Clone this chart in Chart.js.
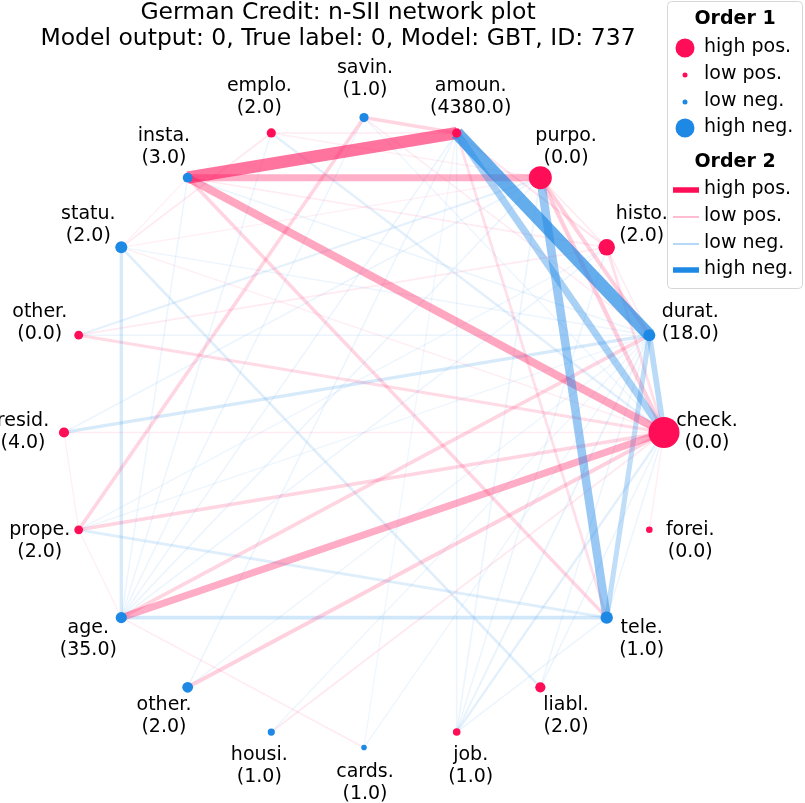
<!DOCTYPE html>
<html>
<head>
<meta charset="utf-8">
<script src="https://cdn.jsdelivr.net/npm/chart.js@4.4.1/dist/chart.umd.min.js"></script>
<style>
  html, body { margin: 0; padding: 0; background: #ffffff; }
  #wrap { width: 805px; height: 803px; }
</style>
</head>
<body>
<div id="wrap"><canvas id="c" width="805" height="803"></canvas></div>
<script>
// ---------------- data ----------------
const featureKeys = ['check','durat','histo','purpo','amoun','savin','emplo','insta','statu','other0',
                     'resid','prope','age','other2','housi','cards','job','liabl','tele','forei'];
const featureLabels = ['check.','durat.','histo.','purpo.','amoun.','savin.','emplo.','insta.','statu.','other.',
                       'resid.','prope.','age.','other.','housi.','cards.','job.','liabl.','tele.','forei.'];
const featureValues = ['0.0','18.0','2.0','0.0','4380.0','1.0','2.0','3.0','2.0','0.0',
                       '4.0','2.0','35.0','2.0','1.0','1.0','1.0','2.0','1.0','0.0'];
// order-1 interactions (main effects)
const order1Values = [0.31, -0.12, 0.165, 0.23, 0.092, -0.092, 0.092, -0.098, -0.12, 0.088,
                      0.102, 0.088, -0.112, -0.108, -0.072, -0.056, 0.076, 0.102, -0.124, 0.066];
// order-2 interactions: [featureA, featureB, value]
const order2Pairs = [
  ['amoun','durat',-1.00], ['insta','amoun',0.95], ['purpo','tele',-0.64], ['insta','check',0.58],
  ['insta','purpo',0.50], ['amoun','check',-0.52], ['age','check',0.52], ['durat','check',-0.40],
  ['durat','tele',-0.35], ['purpo','check',0.28], ['purpo','durat',0.25], ['other2','check',0.25],
  ['age','tele',-0.24], ['prope','check',0.22], ['statu','age',-0.20], ['resid','durat',-0.20],
  ['age','durat',0.22], ['savin','prope',0.22], ['insta','tele',0.22], ['savin','amoun',0.22],
  ['other0','check',0.18], ['amoun','tele',0.15], ['prope','tele',-0.15], ['statu','liabl',-0.14],
  ['emplo','check',-0.12], ['histo','check',0.15], ['amoun','histo',0.10], ['job','check',-0.12],
  ['other0','purpo',-0.10], ['emplo','statu',0.07], ['age','cards',0.06], ['housi','check',0.07],
  ['resid','check',0.06], ['emplo','amoun',0.06], ['job','durat',-0.08], ['job','tele',-0.05],
  ['job','purpo',-0.06], ['job','amoun',-0.05], ['job','histo',-0.05], ['age','insta',-0.05],
  ['age','emplo',-0.05], ['age','savin',-0.05], ['age','amoun',-0.06], ['age','purpo',-0.06],
  ['age','histo',-0.05], ['resid','purpo',-0.06], ['other0','histo',0.06], ['durat','statu',-0.05],
  ['durat','insta',-0.05], ['durat','other0',-0.05], ['durat','prope',-0.04], ['savin','durat',0.05],
  ['insta','histo',0.06], ['liabl','durat',-0.05], ['liabl','check',-0.05], ['forei','check',0.04],
  ['tele','check',-0.05], ['housi','durat',-0.04], ['cards','durat',-0.04], ['cards','amoun',-0.03],
  ['other2','amoun',-0.05], ['statu','check',0.04], ['histo','purpo',0.06], ['histo','durat',0.05],
  ['emplo','purpo',0.04], ['savin','check',-0.04], ['prope','histo',-0.04], ['statu','purpo',0.03],
  ['other2','durat',-0.04], ['resid','prope',0.03], ['prope','age',0.03], ['insta','statu',0.03]
];
const legendOrder1 = ['high pos.','low pos.','low neg.','high neg.'];
const legendOrder2 = ['high pos.','low pos.','low neg.','high neg.'];
const titleLines = ['German Credit: n-SII network plot', 'Model output: 0, True label: 0, Model: GBT, ID: 737'];

// ---------------- styling / build ----------------
const RED = [255, 13, 87];
const BLUE = [30, 136, 229];
const rgba = (c, a) => `rgba(${c[0]},${c[1]},${c[2]},${a})`;
const N = featureKeys.length;
const ang = i => i * 2 * Math.PI / N;
const nodePos = i => ({ x: Math.cos(ang(i)), y: Math.sin(ang(i)) });

const vmax = Math.max(...order2Pairs.map(p => Math.abs(p[2])));
const sorted = order2Pairs.slice().sort((a, b) => Math.abs(a[2]) - Math.abs(b[2]));
const datasets = [];

datasets.push({
  label: 'nodes',
  data: featureKeys.map((k, i) => nodePos(i)),
  pointRadius: order1Values.map(v => Math.abs(v) * 50),
  pointHoverRadius: order1Values.map(v => Math.abs(v) * 50),
  backgroundColor: order1Values.map(v => v >= 0 ? rgba(RED, 1) : rgba(BLUE, 1)),
  borderWidth: 0,
  order: 0
});

sorted.forEach((p, k) => {
  const a = featureKeys.indexOf(p[0]);
  const b = featureKeys.indexOf(p[1]);
  const r = Math.abs(p[2]) / vmax;
  const col = p[2] >= 0 ? RED : BLUE;
  const alpha = p[2] >= 0 ? 0.05 + 0.55 * r : 0.05 + 0.64 * r;
  datasets.push({
    label: p[0] + '-' + p[1],
    data: [nodePos(a), nodePos(b)],
    showLine: true,
    borderColor: rgba(col, alpha.toFixed(3)),
    borderWidth: 0.9 + 12 * r,
    borderCapStyle: 'butt',
    pointRadius: 0,
    pointHoverRadius: 0,
    tension: 0,
    order: 1 + (sorted.length - k)
  });
});

const FONT = "'DejaVu Sans', 'Liberation Sans', sans-serif";

const decorPlugin = {
  id: 'decor',
  afterDatasetsDraw(chart) {
    const ctx = chart.ctx;
    const xs = chart.scales.x, ys = chart.scales.y;
    ctx.save();
    // node labels
    ctx.fillStyle = '#000';
    ctx.font = '19px ' + FONT;
    ctx.textAlign = 'center';
    ctx.textBaseline = 'middle';
    featureKeys.forEach((k, i) => {
      const p = nodePos(i);
      const px = xs.getPixelForValue(p.x);
      const py = ys.getPixelForValue(p.y);
      const s = Math.sin(ang(i));
      const lx = px + 42 * Math.cos(ang(i)) + 1;
      const ly = py - (s > 0 ? 38 : 36) * s;
      ctx.fillText(featureLabels[i], lx, ly - 11);
      ctx.fillText('(' + featureValues[i] + ')', lx, ly + 11);
    });
    // title
    ctx.font = '23.5px ' + FONT;
    ctx.fillText(titleLines[0], 338, 13);
    ctx.fillText(titleLines[1], 338, 38.5);

    // legend box
    const bx = 667.5, by = 1.5, bw = 135, bh = 287, rr = 4;
    ctx.beginPath();
    ctx.moveTo(bx + rr, by);
    ctx.lineTo(bx + bw - rr, by);
    ctx.quadraticCurveTo(bx + bw, by, bx + bw, by + rr);
    ctx.lineTo(bx + bw, by + bh - rr);
    ctx.quadraticCurveTo(bx + bw, by + bh, bx + bw - rr, by + bh);
    ctx.lineTo(bx + rr, by + bh);
    ctx.quadraticCurveTo(bx, by + bh, bx, by + bh - rr);
    ctx.lineTo(bx, by + rr);
    ctx.quadraticCurveTo(bx, by, bx + rr, by);
    ctx.closePath();
    ctx.fillStyle = 'rgba(255,255,255,0.85)';
    ctx.fill();
    ctx.strokeStyle = '#d6d6d6';
    ctx.lineWidth = 1;
    ctx.stroke();

    ctx.fillStyle = '#000';
    ctx.textAlign = 'center';
    ctx.font = 'bold 19px ' + FONT;
    ctx.fillText('Order 1', 735, 19);
    ctx.fillText('Order 2', 735, 162);

    ctx.font = '19px ' + FONT;
    ctx.textAlign = 'left';
    const o1y = [48, 75, 102, 128];
    const o1r = [9.5, 2.5, 2.5, 9.5];
    const o1c = [RED, RED, BLUE, BLUE];
    legendOrder1.forEach((t, j) => {
      ctx.beginPath();
      ctx.arc(685, o1y[j], o1r[j], 0, Math.PI * 2);
      ctx.fillStyle = rgba(o1c[j], 1);
      ctx.fill();
      ctx.fillStyle = '#000';
      ctx.fillText(t, 704, o1y[j] - 1);
    });
    const o2y = [190, 217, 244, 270];
    const o2w = [5.5, 1.2, 1.2, 5.5];
    const o2c = [rgba(RED, 1), rgba(RED, 0.45), rgba(BLUE, 0.55), rgba(BLUE, 1)];
    legendOrder2.forEach((t, j) => {
      ctx.beginPath();
      ctx.moveTo(673, o2y[j]);
      ctx.lineTo(699, o2y[j]);
      ctx.strokeStyle = o2c[j];
      ctx.lineWidth = o2w[j];
      ctx.stroke();
      ctx.fillStyle = '#000';
      ctx.fillText(t, 704, o2y[j] - 1);
    });
    ctx.restore();
  }
};

new Chart(document.getElementById('c'), {
  type: 'scatter',
  data: { datasets },
  options: {
    responsive: false,
    animation: false,
    devicePixelRatio: 1,
    events: [],
    layout: { autoPadding: false, padding: { left: 4, right: 6, top: 1, bottom: 2 } },
    plugins: { legend: { display: false }, tooltip: { enabled: false }, title: { display: false } },
    scales: {
      x: { type: 'linear', min: -1.2, max: 1.45, display: false },
      y: { type: 'linear', min: -1.17, max: 1.37, display: false }
    }
  },
  plugins: [decorPlugin]
});
</script>
</body>
</html>
